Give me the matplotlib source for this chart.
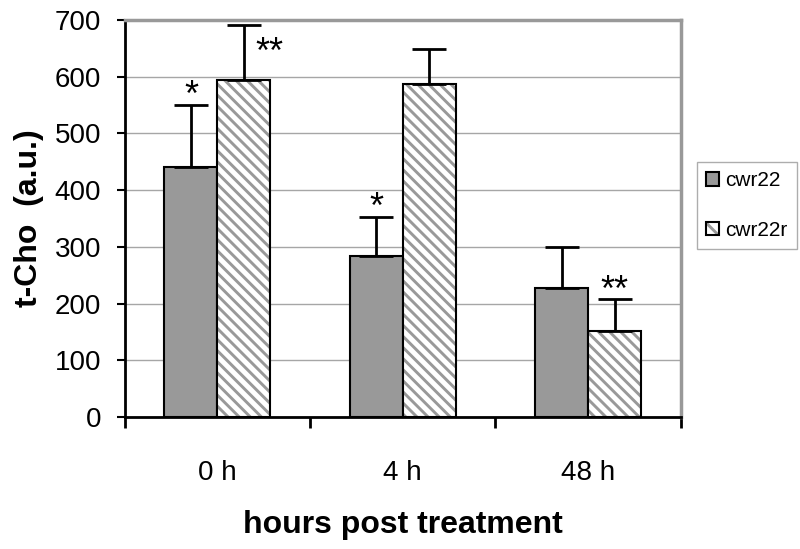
import matplotlib
matplotlib.use("Agg")
import matplotlib.pyplot as plt
from matplotlib.patches import Patch
import numpy as np

categories = ["0 h", "4 h", "48 h"]
series_names = ["cwr22", "cwr22r"]
cwr22 = [441, 284, 228]
cwr22_err = [109, 69, 71]
cwr22r = [595, 587, 152]
cwr22r_err = [97, 61, 56]
cwr22_marks = ["*", "*", ""]
cwr22r_marks = ["**", "", "**"]

plt.rcParams['font.family'] = ['Liberation Sans', 'DejaVu Sans']
plt.rcParams['hatch.linewidth'] = 2.1

fig = plt.figure(figsize=(8, 5.49), dpi=100)
ax = fig.add_axes([0.156, 0.2404, 0.695, 0.7232])

x = np.arange(len(categories))
w = 0.286
ax.bar(x - w/2, cwr22, w, color='#999999', edgecolor='black', linewidth=1.5, zorder=3)
# hatched series: hatch drawn in gray, then black outline on top
ax.bar(x + w/2, cwr22r, w, facecolor='white', edgecolor='#999999', linewidth=0, hatch='\\\\\\', zorder=3)
ax.bar(x + w/2, cwr22r, w, fill=False, edgecolor='black', linewidth=1.5, zorder=3.5)

ax.errorbar(x - w/2, cwr22, yerr=[np.zeros(3), cwr22_err], fmt='none', ecolor='black', elinewidth=2, capsize=12, capthick=2, zorder=4)
ax.errorbar(x + w/2, cwr22r, yerr=[np.zeros(3), cwr22r_err], fmt='none', ecolor='black', elinewidth=2, capsize=12, capthick=2, zorder=4)

for i in range(3):
    if cwr22_marks[i]:
        ax.text(x[i] - w/2, cwr22[i] + cwr22_err[i] - 16, cwr22_marks[i], ha='center', va='bottom', fontsize=26)
for i in range(3):
    if cwr22r_marks[i]:
        if i == 0:
            ax.text(x[i] + w/2 + 0.06, cwr22r[i] + cwr22r_err[i] - 82, cwr22r_marks[i], ha='left', va='bottom', fontsize=26)
        else:
            ax.text(x[i] + w/2, cwr22r[i] + cwr22r_err[i] - 17, cwr22r_marks[i], ha='center', va='bottom', fontsize=26)

ax.set_ylim(0, 700)
ax.set_xlim(-0.5, 2.5)
ax.set_yticks(np.arange(0, 701, 100))
ax.yaxis.grid(True, color='#a6a6a6', linewidth=1, zorder=0)
ax.set_axisbelow(True)

ax.set_xticks([-0.5, 0.5, 1.5, 2.5])
ax.set_xticklabels([])
ax.set_xticks(x, minor=True)
ax.set_xticklabels(categories, minor=True)
ax.tick_params(axis='x', which='major', direction='out', length=8, width=2)
ax.tick_params(axis='x', which='minor', length=0, labelsize=20, pad=31)
ax.tick_params(axis='y', direction='out', length=6, width=1.5, labelsize=20, pad=11)

for s in ['left', 'bottom']:
    ax.spines[s].set_linewidth(2)
    ax.spines[s].set_color('black')
for s in ['top', 'right']:
    ax.spines[s].set_linewidth(2.5)
    ax.spines[s].set_color('#999999')

ax.set_ylabel('t-Cho  (a.u.)', fontsize=23, fontweight='bold', labelpad=8)
ax.set_xlabel('hours post treatment', fontsize=23, fontweight='bold', labelpad=17)

h1 = Patch(facecolor='#999999', edgecolor='black', linewidth=1.5)
h2 = (Patch(facecolor='white', edgecolor='#999999', linewidth=0, hatch='\\\\'),
      Patch(fill=False, edgecolor='black', linewidth=1.5))
leg = fig.legend([h1, h2], series_names, loc='upper left', bbox_to_anchor=(0.871, 0.705), fontsize=15,
                 frameon=True, fancybox=False, edgecolor='#999999', handlelength=0.6, handleheight=0.6,
                 handletextpad=0.3, borderpad=0.45, labelspacing=1.45, borderaxespad=0)
leg.get_frame().set_linewidth(1)

fig.savefig('out.png', dpi=100)
